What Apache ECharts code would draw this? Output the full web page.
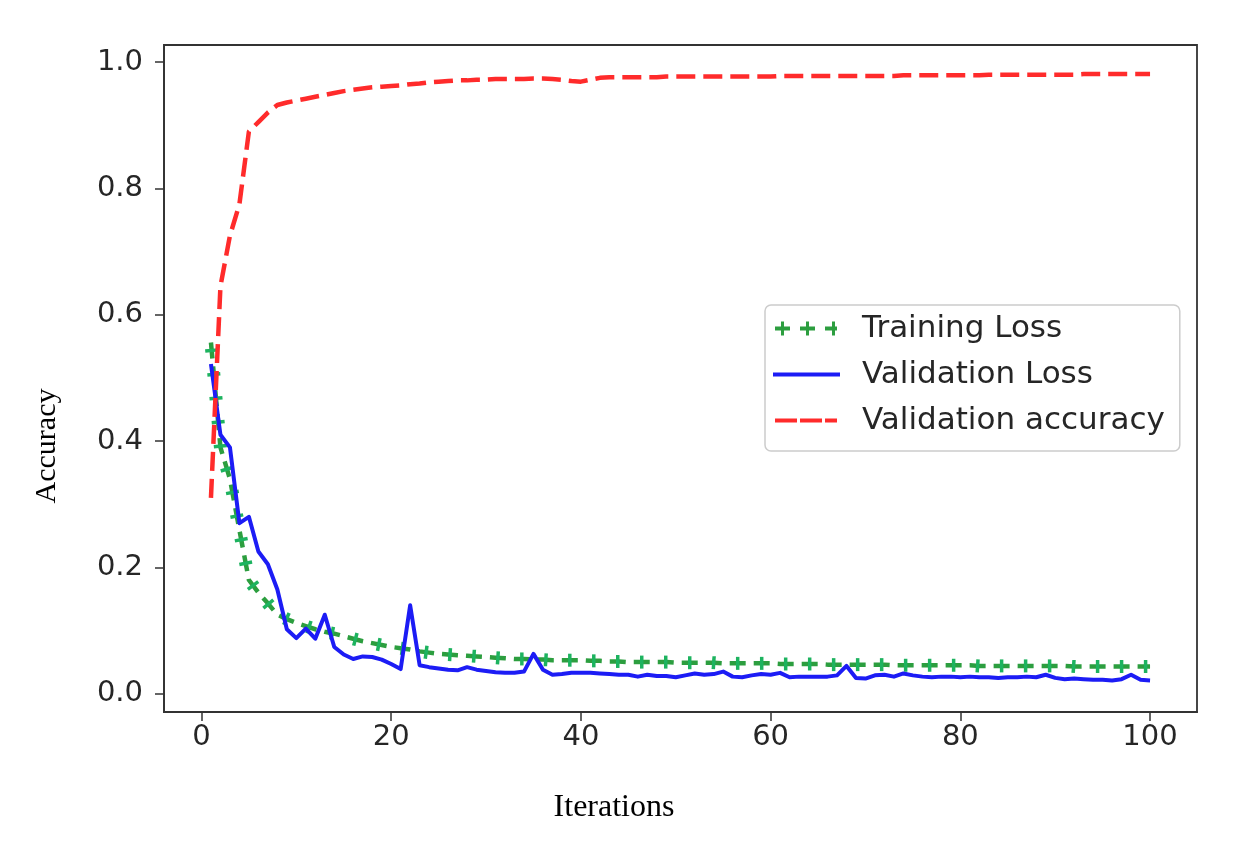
<!DOCTYPE html>
<html>
<head>
<meta charset="utf-8">
<title>Training / validation curves</title>
<script src="https://cdn.jsdelivr.net/npm/echarts@6/dist/echarts.min.js"></script>
<style>
  html, body { margin: 0; padding: 0; background: #fff; }
  #chart { width: 1254px; height: 841px; }
</style>
</head>
<body>
<div id="chart"></div>
<script>
// values, one per iteration (1..100)
const iterations = Array.from({ length: 100 }, (_, i) => i + 1);

const trainingLoss = [
    0.556, 0.390, 0.340, 0.259, 0.180, 0.160, 0.143, 0.125, 0.118, 0.112,
    0.107, 0.102, 0.098, 0.095, 0.091, 0.087, 0.083, 0.080, 0.077, 0.074,
    0.072, 0.070, 0.067, 0.065, 0.063, 0.062, 0.061, 0.060, 0.059, 0.058,
    0.057, 0.056, 0.055, 0.055, 0.054, 0.054, 0.053, 0.053, 0.053, 0.053,
    0.052, 0.052, 0.051, 0.051, 0.050, 0.050, 0.050, 0.050, 0.050, 0.049,
    0.049, 0.049, 0.049, 0.049, 0.048, 0.048, 0.048, 0.048, 0.048, 0.048,
    0.047, 0.047, 0.047, 0.047, 0.047, 0.046, 0.046, 0.046, 0.046, 0.046,
    0.046, 0.046, 0.045, 0.045, 0.045, 0.045, 0.045, 0.045, 0.045, 0.045,
    0.045, 0.044, 0.044, 0.044, 0.044, 0.044, 0.044, 0.044, 0.044, 0.044,
    0.044, 0.043, 0.043, 0.043, 0.043, 0.043, 0.043, 0.043, 0.043, 0.043
];

const validationLoss = [
    0.522, 0.410, 0.390, 0.270, 0.280, 0.225, 0.205, 0.165, 0.102, 0.088,
    0.103, 0.087, 0.125, 0.074, 0.062, 0.055, 0.059, 0.058, 0.054, 0.047,
    0.039, 0.140, 0.045, 0.042, 0.040, 0.038, 0.037, 0.042, 0.038, 0.036,
    0.034, 0.033, 0.033, 0.035, 0.063, 0.038, 0.030, 0.031, 0.033, 0.033,
    0.033, 0.032, 0.031, 0.030, 0.030, 0.027, 0.030, 0.028, 0.028, 0.026,
    0.029, 0.032, 0.030, 0.031, 0.035, 0.027, 0.026, 0.029, 0.031, 0.030,
    0.033, 0.026, 0.027, 0.027, 0.027, 0.027, 0.029, 0.044, 0.025, 0.024,
    0.029, 0.030, 0.027, 0.032, 0.029, 0.027, 0.026, 0.027, 0.027, 0.026,
    0.027, 0.026, 0.026, 0.025, 0.026, 0.026, 0.027, 0.026, 0.030, 0.025,
    0.023, 0.024, 0.023, 0.022, 0.022, 0.021, 0.023, 0.030, 0.022, 0.021
];

const validationAccuracy = [
    0.310, 0.645, 0.725, 0.775, 0.890, 0.905, 0.920, 0.932, 0.936, 0.939,
    0.942, 0.945, 0.948, 0.951, 0.954, 0.956, 0.958, 0.960, 0.961, 0.962,
    0.963, 0.965, 0.966, 0.968, 0.969, 0.970, 0.971, 0.971, 0.972, 0.972,
    0.973, 0.973, 0.973, 0.973, 0.974, 0.974, 0.973, 0.972, 0.970, 0.969,
    0.972, 0.975, 0.976, 0.976, 0.976, 0.976, 0.976, 0.976, 0.977, 0.977,
    0.977, 0.977, 0.977, 0.977, 0.977, 0.977, 0.977, 0.977, 0.977, 0.977,
    0.978, 0.978, 0.978, 0.978, 0.978, 0.978, 0.978, 0.978, 0.978, 0.978,
    0.978, 0.978, 0.978, 0.979, 0.979, 0.979, 0.979, 0.979, 0.979, 0.979,
    0.979, 0.979, 0.980, 0.980, 0.980, 0.980, 0.980, 0.980, 0.980, 0.980,
    0.980, 0.980, 0.981, 0.981, 0.981, 0.981, 0.981, 0.981, 0.981, 0.981
];

const xTicks = [0, 20, 40, 60, 80, 100];
const yTicks = [0, 0.2, 0.4, 0.6, 0.8, 1.0];

const GREEN = '#2c9e3f';
const GREEN_TICK = '#1db35f';
const BLUE = '#1c1cf5';
const RED = '#ff2b2b';
const AXIS = '#333333';

// legend icons, drawn in an 85x14 box (the two zero-area corners fix the box)
const CORNERS = 'M0,0L0,0Z M85,14L85,14Z ';
const ICON_TRAIN = 'path://' + CORNERS +
    'M3,5H18V9H3Z M9,0H12V14H9Z ' +
    'M28,5H43V9H28Z M34,0H37V14H34Z ' +
    'M53,5H65V9H53Z M60,0H63V14H60Z';
const ICON_VAL_LOSS = 'path://' + CORNERS + 'M1,5H68V9H1Z';
const ICON_VAL_ACC = 'path://' + CORNERS + 'M3,5H25V9H3Z M28,5H50V9H28Z M53,5H65V9H53Z';

// perpendicular ticks along the training-loss line, one in the middle of each dash
const DASH = 16, GAP = 8;
function renderTicks(params, api) {
    if (params.dataIndex !== 0) return null;
    const pts = iterations.map((it, i) => api.coord([it, trainingLoss[i]]));
    const children = [];
    let next = DASH / 2;
    let walked = 0;
    for (let i = 1; i < pts.length; i++) {
        const dx = pts[i][0] - pts[i - 1][0];
        const dy = pts[i][1] - pts[i - 1][1];
        const seg = Math.hypot(dx, dy);
        while (seg > 0 && next <= walked + seg) {
            const t = (next - walked) / seg;
            const cx = pts[i - 1][0] + dx * t;
            const cy = pts[i - 1][1] + dy * t;
            const nx = -dy / seg, ny = dx / seg;
            children.push({
                type: 'line',
                shape: { x1: cx - nx * 6.5, y1: cy - ny * 6.5, x2: cx + nx * 6.5, y2: cy + ny * 6.5 },
                style: { stroke: GREEN_TICK, lineWidth: 3.5 }
            });
            next += DASH + GAP;
        }
        walked += seg;
    }
    return { type: 'group', children };
}

const chart = echarts.init(document.getElementById('chart'));

chart.setOption({
    animation: false,
    backgroundColor: '#ffffff',
    grid: {
        left: 164, right: 57, top: 45, bottom: 129,
        show: true, borderColor: AXIS, borderWidth: 1.8,
        containLabel: false
    },
    xAxis: {
        type: 'value',
        min: -3.95,
        max: 104.95,
        splitLine: { show: false },
        axisLine: { show: true, onZero: false, lineStyle: { color: AXIS, width: 1.8 } },
        axisTick: { show: true, customValues: xTicks, length: 9, lineStyle: { color: AXIS, width: 1.5 } },
        axisLabel: {
            customValues: xTicks,
            margin: 11,
            fontFamily: 'DejaVu Sans',
            fontSize: 29,
            color: '#262626'
        }
    },
    yAxis: {
        type: 'value',
        min: -0.029,
        max: 1.027,
        splitLine: { show: false },
        axisLine: { show: true, onZero: false, lineStyle: { color: AXIS, width: 1.8 } },
        axisTick: { show: true, customValues: yTicks, length: 9, lineStyle: { color: AXIS, width: 1.5 } },
        axisLabel: {
            customValues: yTicks,
            margin: 21,
            fontFamily: 'DejaVu Sans',
            fontSize: 29,
            color: '#262626',
            formatter: v => v.toFixed(1)
        }
    },
    legend: {
        orient: 'vertical',
        left: 765,
        top: 305,
        itemWidth: 85,
        itemHeight: 14,
        itemGap: 15,
        padding: [8, 15, 15, 7],
        backgroundColor: '#ffffff',
        borderColor: '#cccccc',
        borderWidth: 1.5,
        borderRadius: 6,
        selectedMode: false,
        textStyle: { fontFamily: 'DejaVu Sans', fontSize: 31, color: '#262626' },
        data: [
            { name: 'Training Loss', icon: ICON_TRAIN, itemStyle: { color: GREEN } },
            { name: 'Validation Loss', icon: ICON_VAL_LOSS, itemStyle: { color: BLUE } },
            { name: 'Validation accuracy', icon: ICON_VAL_ACC, itemStyle: { color: RED } }
        ]
    },
    graphic: [
        {
            type: 'text',
            x: 47, y: 446,
            rotation: Math.PI / 2,
            style: {
                text: 'Accuracy',
                font: '30px "Liberation Serif"',
                fill: '#000',
                align: 'center',
                verticalAlign: 'middle'
            }
        },
        {
            type: 'text',
            x: 614, y: 808,
            style: {
                text: 'Iterations',
                font: '32px "Liberation Serif"',
                fill: '#000',
                align: 'center',
                verticalAlign: 'middle'
            }
        }
    ],
    series: [
        {
            name: 'Training Loss',
            type: 'line',
            data: iterations.map((it, i) => [it, trainingLoss[i]]),
            showSymbol: false,
            color: GREEN,
            lineStyle: { color: GREEN, width: 4.5, type: [DASH, GAP], cap: 'butt' },
            z: 2
        },
        {
            name: 'training ticks',
            type: 'custom',
            data: [[iterations[0], trainingLoss[0]]],
            renderItem: renderTicks,
            silent: true,
            z: 3
        },
        {
            name: 'Validation Loss',
            type: 'line',
            data: iterations.map((it, i) => [it, validationLoss[i]]),
            showSymbol: false,
            color: BLUE,
            lineStyle: { color: BLUE, width: 4, join: 'round' },
            z: 4
        },
        {
            name: 'Validation accuracy',
            type: 'line',
            data: iterations.map((it, i) => [it, validationAccuracy[i]]),
            showSymbol: false,
            color: RED,
            lineStyle: { color: RED, width: 4.5, type: [19, 8] },
            z: 5
        }
    ]
});
</script>
</body>
</html>
